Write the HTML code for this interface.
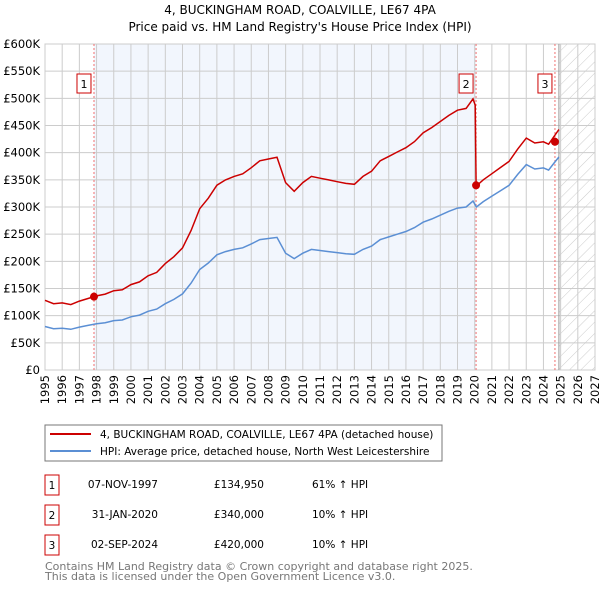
<!DOCTYPE html>
<html><head><meta charset="utf-8"><style>
body{margin:0;background:#fff;width:600px;height:590px;overflow:hidden;font-family:"DejaVu Sans","Liberation Sans",sans-serif}
svg text{font-family:"DejaVu Sans","Liberation Sans",sans-serif}
</style></head><body>
<svg id="c" width="600" height="590">
<defs><pattern id="hatch" width="8" height="8" patternUnits="userSpaceOnUse" patternTransform="rotate(45)"><line x1="0" y1="0" x2="0" y2="8" stroke="#ccc" stroke-width="1"/></pattern></defs>
<text x="300" y="14" text-anchor="middle" font-size="12">4, BUCKINGHAM ROAD, COALVILLE, LE67 4PA</text>
<text x="300" y="31" text-anchor="middle" font-size="12">Price paid vs. HM Land Registry's House Price Index (HPI)</text>
<g id="plot"></g>
<rect x="45" y="425" width="397" height="36" fill="#fff" stroke="#777"/>
<line x1="50" y1="434" x2="91" y2="434" stroke="#cc0000" stroke-width="2"/>
<text x="100" y="438" font-size="10.5">4, BUCKINGHAM ROAD, COALVILLE, LE67 4PA (detached house)</text>
<line x1="50" y1="451" x2="91" y2="451" stroke="#5b8fd4" stroke-width="2"/>
<text x="100" y="455" font-size="10.5">HPI: Average price, detached house, North West Leicestershire</text>
<g font-size="10.5">
<rect x="45" y="475" width="14" height="20" fill="none" stroke="#cc0000"/><text x="52" y="489" text-anchor="middle">1</text>
<text x="158" y="488" text-anchor="end">07-NOV-1997</text><text x="264" y="488" text-anchor="end">£134,950</text><text x="312" y="488">61% ↑ HPI</text>
<rect x="45" y="505" width="14" height="20" fill="none" stroke="#cc0000"/><text x="52" y="519" text-anchor="middle">2</text>
<text x="158" y="518" text-anchor="end">31-JAN-2020</text><text x="264" y="518" text-anchor="end">£340,000</text><text x="312" y="518">10% ↑ HPI</text>
<rect x="45" y="535" width="14" height="20" fill="none" stroke="#cc0000"/><text x="52" y="549" text-anchor="middle">3</text>
<text x="158" y="548" text-anchor="end">02-SEP-2024</text><text x="264" y="548" text-anchor="end">£420,000</text><text x="312" y="548">10% ↑ HPI</text>
</g>
<text x="45" y="570" font-size="11" fill="#777">Contains HM Land Registry data © Crown copyright and database right 2025.</text>
<text x="45" y="580" font-size="11" fill="#777">This data is licensed under the Open Government Licence v3.0.</text>
</svg>
<script>
const hpiYears=[1995,1995.5,1996,1996.5,1997,1997.5,1998,1998.5,1999,1999.5,2000,2000.5,2001,2001.5,2002,2002.5,2003,2003.5,2004,2004.5,2005,2005.5,2006,2006.5,2007,2007.5,2008,2008.5,2009,2009.5,2010,2010.5,2011,2011.5,2012,2012.5,2013,2013.5,2014,2014.5,2015,2015.5,2016,2016.5,2017,2017.5,2018,2018.5,2019,2019.5,2019.9,2020.1,2020.5,2021,2021.5,2022,2022.5,2023,2023.5,2024,2024.3,2024.6,2024.9];
const hpiValues=[80,76,77,75,79,82,85,87,91,92,98,101,108,112,122,130,140,160,185,197,212,218,222,225,232,240,242,244,215,205,215,222,220,218,216,214,213,222,228,240,245,250,255,262,272,278,285,292,298,300,311,300,310,320,330,340,360,378,370,372,368,380,392];
const saleYears=[1997.85,2020.08,2024.67];
const salePrices=[134.95,340,420];
const yTicks=[0,50,100,150,200,250,300,350,400,450,500,550,600];
const yTickLabels=["£0","£50K","£100K","£150K","£200K","£250K","£300K","£350K","£400K","£450K","£500K","£550K","£600K"];
const xTicks=[1995,1996,1997,1998,1999,2000,2001,2002,2003,2004,2005,2006,2007,2008,2009,2010,2011,2012,2013,2014,2015,2016,2017,2018,2019,2020,2021,2022,2023,2024,2025,2026,2027];
const dataEnd=2024.9;
const L=45,R=595,T=44,B=370;
const X=y=>L+(y-1995)/(2027-1995)*(R-L);
const Y=v=>B-v/600*(B-T);
const NS='http://www.w3.org/2000/svg';
const g=document.getElementById('plot');
function mk(t,a){const e=document.createElementNS(NS,t);for(const k in a)e.setAttribute(k,a[k]);g.appendChild(e);return e;}
let e;
e=mk('rect',{x:X(saleYears[0]),y:T,width:X(saleYears[1])-X(saleYears[0]),height:B-T,fill:'#f2f6fd'});


e=mk('rect',{x:X(dataEnd),y:T,width:R-X(dataEnd),height:B-T,fill:'url(#hatch)'});


yTicks.forEach((v,i)=>{
 e=mk('line',{x1:L,x2:R,y1:Y(v),y2:Y(v),stroke:'#ccc'});
 
 
 e=mk('text',{x:40,y:Y(v)+4,'text-anchor':'end','font-size':11.5});e.textContent=yTickLabels[i];
 
 
});
xTicks.forEach(yr=>{
 e=mk('line',{x1:X(yr),x2:X(yr),y1:T,y2:B,stroke:'#ccc'});
 
 
 e=mk('text',{x:0,y:0,'text-anchor':'end','font-size':11.5,transform:`translate(${X(yr)+4},${B+5}) rotate(-90)`});e.textContent=yr;
 
 
});
e=mk('rect',{x:L,y:T,width:R-L,height:B-T,fill:'none',stroke:'#ccc'});


e=mk('line',{x1:X(dataEnd),x2:X(dataEnd),y1:T,y2:B,stroke:'#999'});


saleYears.forEach(yr=>{
 e=mk('line',{x1:X(yr),x2:X(yr),y1:T,y2:B,stroke:'#f07070','stroke-dasharray':'2,2'});
 
 
});
function hpiAt(yr){for(let i=0;i<hpiYears.length-1;i++){if(yr<=hpiYears[i+1]){const t=(yr-hpiYears[i])/(hpiYears[i+1]-hpiYears[i]);return hpiValues[i]+t*(hpiValues[i+1]-hpiValues[i]);}}return hpiValues[hpiValues.length-1];}
function ratioAt(yr){return yr<saleYears[1]?salePrices[0]/hpiAt(saleYears[0]):salePrices[1]/hpiAt(saleYears[1]);}
const bp=hpiYears.map((yr,i)=>`${X(yr).toFixed(1)},${Y(hpiValues[i]).toFixed(1)}`).join(' ');
e=mk('polyline',{points:bp,fill:'none',stroke:'#5b8fd4','stroke-width':1.5});


let rp=[];
hpiYears.forEach((yr,i)=>{if(yr<saleYears[1])rp.push([yr,hpiValues[i]*ratioAt(yr)]);});
rp.push([saleYears[1]-0.05,hpiAt(saleYears[1]-0.05)*ratioAt(saleYears[1]-0.1)]);
rp.push([saleYears[1],salePrices[1]]);
hpiYears.forEach((yr,i)=>{if(yr>saleYears[1])rp.push([yr,hpiValues[i]*ratioAt(yr)]);});
e=mk('polyline',{points:rp.map(p=>`${X(p[0]).toFixed(1)},${Y(p[1]).toFixed(1)}`).join(' '),fill:'none',stroke:'#cc0000','stroke-width':1.5});


saleYears.forEach((yr,i)=>{
 e=mk('circle',{cx:X(yr),cy:Y(salePrices[i]),r:4,fill:'#cc0000'});
 
 
 const bx=X(yr)-10;
 e=mk('rect',{x:bx-7,y:74,width:14,height:19,fill:'#fff',stroke:'#cc0000'});
 
 
 e=mk('text',{x:bx,y:88,'text-anchor':'middle','font-size':11});e.textContent=String(i+1);
 
 
});
</script>
</body></html>
